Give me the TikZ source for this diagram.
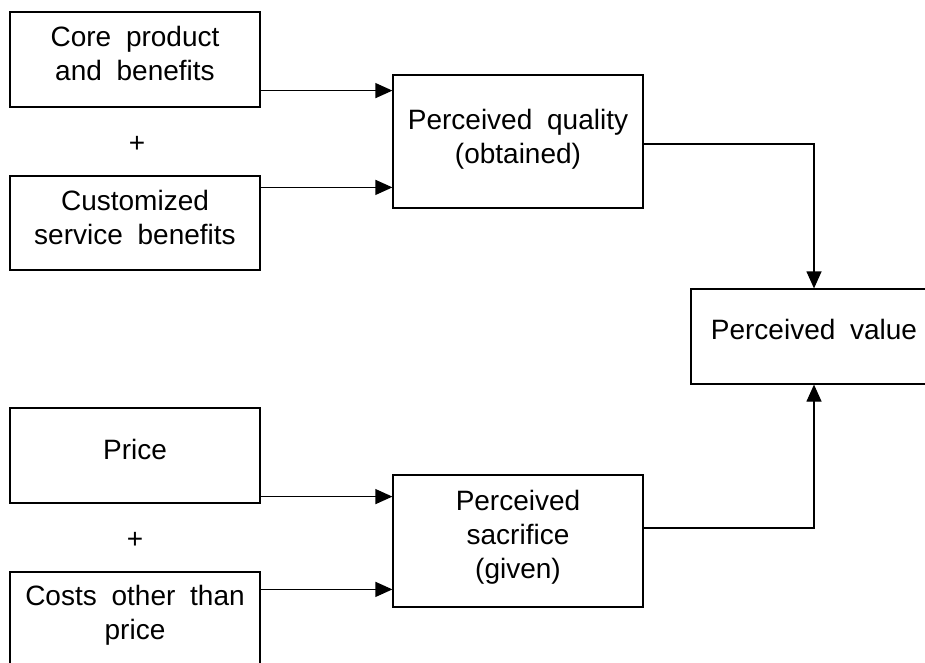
\documentclass[tikz,border=0pt]{standalone}
\usepackage{fontspec}
\setmainfont{Liberation Sans}[WordSpace=1.9]
\usetikzlibrary{arrows.meta}
\begin{document}
\begin{tikzpicture}[x=1pt,y=-1pt,
  box/.style={draw, line width=1.2pt, inner sep=0pt, minimum width=250pt, minimum height=95pt},
  txt/.style={align=center, font=\fontsize{28}{34}\selectfont, inner sep=0pt},
  flow/.style={line width=1.2pt, -{Triangle[length=17pt,width=15pt]}}]
\useasboundingbox (0,0) rectangle (925,663);
\clip (0,0) rectangle (925,663);
\fill[white] (0,0) rectangle (925,663);

% left column: the four input boxes
\node[box] (core)  at (135,59.5)  {};
\node[box, minimum height=94pt] (cust) at (135,223) {};
\node[box] (price) at (135,455.5) {};
\node[box, minimum height=96pt] (costs) at (135,620) {};

% middle column and the result box
\node[box, minimum height=133pt] (pq) at (518,141.5) {};
\node[box, minimum height=132pt] (ps) at (518,541) {};
\node[box, minimum width=246pt] (pv) at (814,336.5) {};

% box texts
\node[txt] (coretxt)  at ([yshift=6pt]core.center)  {Core product\\and benefits};
\node[txt] (custtxt)  at ([yshift=6pt]cust.center)  {Customized\\service benefits};
\node[txt] (pricetxt) at ([yshift=6pt]price.center) {Price};
\node[txt] (coststxt) at ([yshift=5pt]costs.center) {Costs other than\\price};
\node[txt] (pqtxt)    at ([yshift=2pt]pq.center)    {Perceived quality\\(obtained)};
\node[txt] (pstxt)    at ([yshift=4pt]ps.center)    {Perceived\\sacrifice\\(given)};
\node[txt] (pvtxt)    at ([yshift=7pt]pv.center)    {Perceived value};

% plus signs between the paired inputs
\node[txt, anchor=base] (plus1) at (137,153) {+};
\node[txt, anchor=base] (plus2) at (135,548) {+};

% connectors
\coordinate (a1) at ([yshift=17pt]core.south east);
\coordinate (a2) at ([yshift=-12pt]cust.north east);
\coordinate (a3) at ([yshift=7pt]price.south east);
\coordinate (a4) at ([yshift=-18pt]costs.north east);
\coordinate (a5) at ([yshift=-2.5pt]pq.east);
\coordinate (a6) at ([yshift=13pt]ps.east);

\draw[flow] (a1) -- (a1 -| pq.west);
\draw[flow] (a2) -- (a2 -| pq.west);
\draw[flow] (a3) -- (a3 -| ps.west);
\draw[flow] (a4) -- (a4 -| ps.west);
\draw[flow] (a5) -| (pv.north);
\draw[flow] (a6) -| (pv.south);
\end{tikzpicture}
\end{document}
